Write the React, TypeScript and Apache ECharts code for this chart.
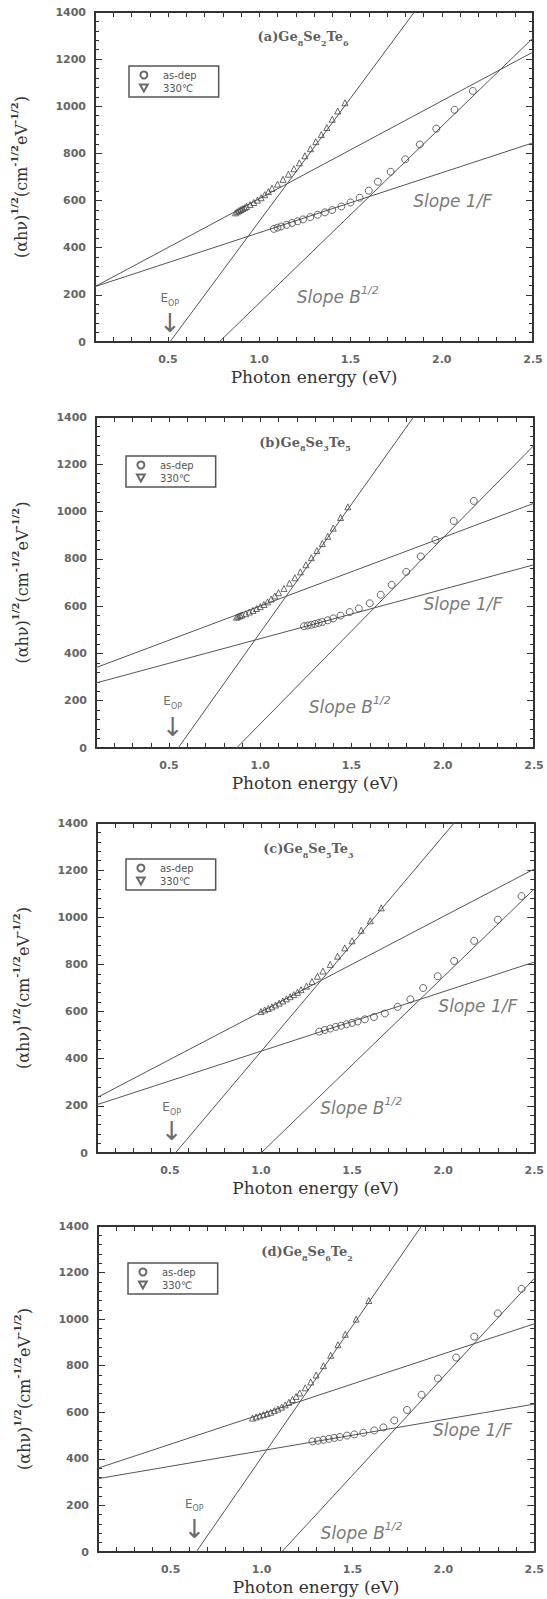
import React, { useEffect, useRef } from "react";
import * as echarts from "echarts";

// ---------- data ----------
const xLabelValues = [0.5, 1.0, 1.5, 2.0, 2.5];
const seriesNames = ["as-dep", "330℃"];
const panelTitles = [
  "(a)Ge{s|8}Se{s|2}Te{s|6}",
  "(b)Ge{s|8}Se{s|3}Te{s|5}",
  "(c)Ge{s|8}Se{s|5}Te{s|3}",
  "(d)Ge{s|8}Se{s|6}Te{s|2}",
];

// (a) Ge8Se2Te6
const asDepA = [
  [1.08, 480], [1.1, 485], [1.12, 490], [1.15, 497], [1.18, 505], [1.21, 512], [1.24, 520],
  [1.28, 530], [1.32, 540], [1.36, 550], [1.4, 560], [1.45, 575], [1.5, 592], [1.55, 612],
  [1.6, 642], [1.65, 680], [1.72, 722], [1.8, 775], [1.88, 838], [1.97, 905], [2.07, 985], [2.17, 1065],
];
const ann330A = [
  [0.87, 548], [0.88, 553], [0.89, 558], [0.9, 562], [0.91, 566], [0.92, 570], [0.93, 575],
  [0.95, 583], [0.97, 592], [0.99, 602], [1.01, 612], [1.03, 625], [1.05, 638], [1.07, 652],
  [1.1, 670], [1.13, 690], [1.16, 712], [1.19, 735], [1.22, 760], [1.25, 790], [1.28, 820],
  [1.31, 850], [1.34, 880], [1.37, 910], [1.4, 945], [1.43, 980], [1.47, 1015],
];
const edge330A = [[0.51, 0], [1.85, 1400]];
const edgeAsDepA = [[0.78, 0], [2.5, 1290]];
const tail330A = [[0.1, 235], [2.5, 1230]];
const tailAsDepA = [[0.1, 235], [2.5, 845]];

// (b) Ge8Se3Te5
const asDepB = [
  [1.24, 515], [1.26, 518], [1.28, 521], [1.3, 525], [1.32, 529], [1.34, 533], [1.37, 540],
  [1.4, 548], [1.44, 560], [1.49, 575], [1.54, 590], [1.6, 612], [1.66, 648], [1.72, 690],
  [1.8, 745], [1.88, 810], [1.96, 880], [2.06, 960], [2.17, 1045],
];
const ann330B = [
  [0.87, 553], [0.88, 557], [0.89, 560], [0.9, 563], [0.92, 568], [0.94, 575], [0.96, 582],
  [0.98, 590], [1.0, 598], [1.02, 607], [1.04, 618], [1.06, 630], [1.08, 643], [1.1, 657],
  [1.13, 675], [1.16, 697], [1.19, 720], [1.22, 745], [1.25, 775], [1.28, 805], [1.31, 835],
  [1.34, 865], [1.37, 895], [1.4, 930], [1.44, 975], [1.48, 1020],
];
const edge330B = [[0.55, 0], [1.84, 1400]];
const edgeAsDepB = [[0.87, 0], [2.5, 1280]];
const tail330B = [[0.1, 340], [2.5, 1035]];
const tailAsDepB = [[0.1, 275], [2.5, 775]];

// (c) Ge8Se5Te3
const asDepC = [
  [1.32, 515], [1.35, 522], [1.38, 528], [1.41, 535], [1.44, 540], [1.47, 546], [1.5, 552],
  [1.53, 558], [1.57, 567], [1.62, 577], [1.68, 592], [1.75, 620], [1.82, 652], [1.89, 700],
  [1.97, 750], [2.06, 815], [2.17, 900], [2.3, 990], [2.43, 1090],
];
const ann330C = [
  [1.0, 600], [1.02, 607], [1.04, 613], [1.06, 620], [1.08, 628], [1.1, 636], [1.12, 645],
  [1.14, 654], [1.16, 663], [1.18, 672], [1.2, 682], [1.22, 693], [1.25, 708], [1.28, 727],
  [1.31, 750], [1.34, 772], [1.38, 800], [1.42, 835], [1.46, 870], [1.5, 900], [1.55, 945],
  [1.6, 985], [1.66, 1040],
];
const edge330C = [[0.53, 0], [2.06, 1400]];
const edgeAsDepC = [[1.0, 0], [2.5, 1120]];
const tail330C = [[0.1, 235], [2.5, 1205]];
const tailAsDepC = [[0.1, 205], [2.5, 810]];

// (d) Ge8Se6Te2
const asDepD = [
  [1.28, 475], [1.31, 478], [1.34, 482], [1.37, 486], [1.4, 490], [1.43, 494], [1.47, 500],
  [1.51, 505], [1.56, 512], [1.62, 522], [1.67, 535], [1.73, 565], [1.8, 610], [1.88, 675],
  [1.97, 745], [2.07, 835], [2.17, 925], [2.3, 1025], [2.43, 1130],
];
const ann330D = [
  [0.95, 575], [0.97, 580], [0.99, 585], [1.01, 590], [1.03, 595], [1.05, 600], [1.07, 607],
  [1.09, 614], [1.11, 622], [1.13, 632], [1.15, 643], [1.17, 655], [1.19, 668], [1.21, 683],
  [1.24, 705], [1.27, 730], [1.3, 760], [1.34, 800], [1.38, 845], [1.42, 890], [1.46, 935],
  [1.52, 1000], [1.59, 1080],
];
const edge330D = [[0.64, 0], [1.88, 1400]];
const edgeAsDepD = [[1.11, 0], [2.5, 1175]];
const tail330D = [[0.1, 360], [2.5, 980]];
const tailAsDepD = [[0.1, 315], [2.5, 635]];

const panelData = [
  { asDep: asDepA, ann: ann330A, lines: [edge330A, edgeAsDepA, tail330A, tailAsDepA] },
  { asDep: asDepB, ann: ann330B, lines: [edge330B, edgeAsDepB, tail330B, tailAsDepB] },
  { asDep: asDepC, ann: ann330C, lines: [edge330C, edgeAsDepC, tail330C, tailAsDepC] },
  { asDep: asDepD, ann: ann330D, lines: [edge330D, edgeAsDepD, tail330D, tailAsDepD] },
];

// ---------- layout (positions of grids and annotations) ----------
const layouts = [
  { top: 12, left: 95, width: 438, height: 330, legend: [129, 66], title: [1.24, 1294], slopeF: [2.06, 600], slopeB: [1.43, 190], eop: [0.51, 185], arrow: [0.51, 82] },
  { top: 417, left: 96, width: 438, height: 331, legend: [126, 456], title: [1.245, 1294], slopeF: [2.11, 610], slopeB: [1.49, 175], eop: [0.52, 197], arrow: [0.52, 87] },
  { top: 823, left: 97, width: 439, height: 330, legend: [126, 859], title: [1.26, 1290], slopeF: [2.19, 625], slopeB: [1.55, 190], eop: [0.51, 194], arrow: [0.51, 92] },
  { top: 1226, left: 98, width: 438, height: 326, legend: [128, 1263], title: [1.25, 1290], slopeF: [2.16, 522], slopeB: [1.55, 80], eop: [0.63, 207], arrow: [0.63, 100] },
];

const INK = "#444";
const LABEL = "#666";

function buildOption() {
  const grid: any[] = [];
  const xAxis: any[] = [];
  const yAxis: any[] = [];
  const series: any[] = [];
  const legend: any[] = [];

  layouts.forEach((L, i) => {
    grid.push({ left: L.left, top: L.top, width: L.width, height: L.height, containLabel: false });

    const xBase = {
      type: "value",
      gridIndex: i,
      min: 0.1,
      max: 2.5,
      interval: 0.1,
      splitLine: { show: false },
      axisLine: { show: true, onZero: false, lineStyle: { color: "#333", width: 2 } },
      axisTick: { show: true, inside: true, length: 5, lineStyle: { color: "#333", width: 1 } },
    };
    xAxis.push({
      ...xBase,
      position: "bottom",
      name: "Photon energy (eV)",
      nameLocation: "middle",
      nameGap: 26,
      nameTextStyle: { fontFamily: "DejaVu Serif", fontSize: 17, color: "#333" },
      axisLabel: {
        show: true,
        interval: 0,
        margin: 12,
        hideOverlap: false,
        fontFamily: "DejaVu Sans",
        fontWeight: "bold",
        fontSize: 11,
        color: LABEL,
        formatter: (v: number) =>
          xLabelValues.some((t) => Math.abs(t - v) < 1e-6) ? v.toFixed(1) : "",
      },
    });
    xAxis.push({ ...xBase, position: "top", axisLabel: { show: false } });

    const yBase = {
      type: "value",
      gridIndex: i,
      min: 0,
      max: 1400,
      interval: 200,
      splitLine: { show: false },
      axisLine: { show: true, onZero: false, lineStyle: { color: "#333", width: 2 } },
      axisTick: { show: true, inside: true, length: 7, lineStyle: { color: "#333", width: 1 } },
      minorTick: { show: true, splitNumber: 5, length: 4, lineStyle: { color: "#333", width: 1 } },
    };
    yAxis.push({
      ...yBase,
      position: "left",
      name:
        "{m|(αhν)}{sup|1/2}{m|(cm}{sup|-1/2}{m|eV}{sup|-1/2}{m|)}",
      nameLocation: "middle",
      nameRotate: 90,
      nameGap: 62,
      nameTextStyle: {
        rich: {
          m: { fontFamily: "DejaVu Serif", fontSize: 16, color: "#333", lineHeight: 24 },
          sup: { fontFamily: "DejaVu Serif", fontWeight: "bold", fontSize: 10, color: "#333", lineHeight: 12, verticalAlign: "top" },
        },
      },
      axisLabel: {
        show: true,
        margin: 9,
        fontFamily: "DejaVu Sans",
        fontWeight: "bold",
        fontSize: 11,
        color: LABEL,
        formatter: (v: number) => String(v),
      },
    });
    yAxis.push({ ...yBase, position: "right", axisLabel: { show: false } });

    const xi = i * 2;
    const yi = i * 2;
    const D = panelData[i];

    D.lines.forEach((ln) => {
      series.push({
        type: "line",
        xAxisIndex: xi,
        yAxisIndex: yi,
        data: ln,
        symbol: "none",
        showSymbol: false,
        clip: true,
        silent: true,
        lineStyle: { color: "#555", width: 1 },
        z: 2,
      });
    });

    series.push({
      type: "scatter",
      name: seriesNames[0],
      xAxisIndex: xi,
      yAxisIndex: yi,
      data: D.asDep,
      symbol: "circle",
      symbolSize: 7,
      itemStyle: { color: "rgba(255,255,255,0)", borderColor: INK, borderWidth: 1 },
      z: 3,
    });
    series.push({
      type: "scatter",
      name: seriesNames[1],
      xAxisIndex: xi,
      yAxisIndex: yi,
      data: D.ann,
      symbol: "triangle",
      symbolSize: 6,
      itemStyle: { color: "rgba(255,255,255,0)", borderColor: INK, borderWidth: 1 },
      z: 3,
    });

    const textPoint = (pos: number[], label: any) => ({
      value: pos,
      label: { show: true, position: "inside", ...label },
    });

    series.push({
      type: "scatter",
      xAxisIndex: xi,
      yAxisIndex: yi,
      symbolSize: 1,
      silent: true,
      itemStyle: { color: "rgba(0,0,0,0)" },
      z: 5,
      data: [
        textPoint(L.title, {
          formatter: panelTitles[i],
          fontFamily: "DejaVu Serif",
          fontWeight: "bold",
          fontSize: 13,
          color: "#333",
          lineHeight: 20,
          rich: {
            s: { fontFamily: "DejaVu Serif", fontWeight: "bold", fontSize: 8, color: "#333", lineHeight: 10, verticalAlign: "bottom" },
          },
        }),
        textPoint(L.slopeF, {
          formatter: "Slope 1/F",
          fontFamily: "DejaVu Sans",
          fontStyle: "italic",
          fontSize: 17,
          color: "#555",
        }),
        textPoint(L.slopeB, {
          formatter: "Slope B{sup|1/2}",
          fontFamily: "DejaVu Sans",
          fontStyle: "italic",
          fontSize: 17,
          color: "#555",
          lineHeight: 24,
          rich: {
            sup: { fontFamily: "DejaVu Sans", fontStyle: "italic", fontSize: 11, color: "#555", lineHeight: 14, verticalAlign: "top" },
          },
        }),
        textPoint(L.eop, {
          formatter: "E{sub|OP}",
          fontFamily: "DejaVu Sans",
          fontSize: 12,
          color: "#444",
          lineHeight: 18,
          rich: {
            sub: { fontFamily: "DejaVu Sans", fontSize: 8, color: "#444", lineHeight: 10, verticalAlign: "bottom" },
          },
        }),
        textPoint(L.arrow, {
          formatter: "↓",
          fontFamily: "DejaVu Sans",
          fontSize: 26,
          color: "#444",
        }),
      ],
    });

    legend.push({
      left: L.legend[0],
      top: L.legend[1],
      orient: "vertical",
      selectedMode: false,
      borderColor: "#555",
      borderWidth: 1.5,
      borderRadius: 0,
      padding: [4, 22, 4, 10],
      itemGap: 3,
      itemWidth: 28,
      itemHeight: 7,
      textStyle: { fontFamily: "DejaVu Sans", fontSize: 10, color: "#555" },
      data: [
        { name: seriesNames[0], icon: "circle" },
        { name: seriesNames[1], icon: "path://M0,0 L10,0 L5,9 Z" },
      ],
    });
  });

  return {
    animation: false,
    backgroundColor: "#fff",
    grid,
    xAxis,
    yAxis,
    series,
    legend,
  };
}

export default function App() {
  const ref = useRef<HTMLDivElement>(null);
  useEffect(() => {
    if (!ref.current) return;
    const chart = echarts.init(ref.current, undefined, { renderer: "svg" });
    chart.setOption(buildOption() as any);
    return () => chart.dispose();
  }, []);
  return (
    <div
      ref={ref}
      style={{ position: "absolute", left: 0, top: 0, width: 547, height: 1599, background: "#fff" }}
    />
  );
}
